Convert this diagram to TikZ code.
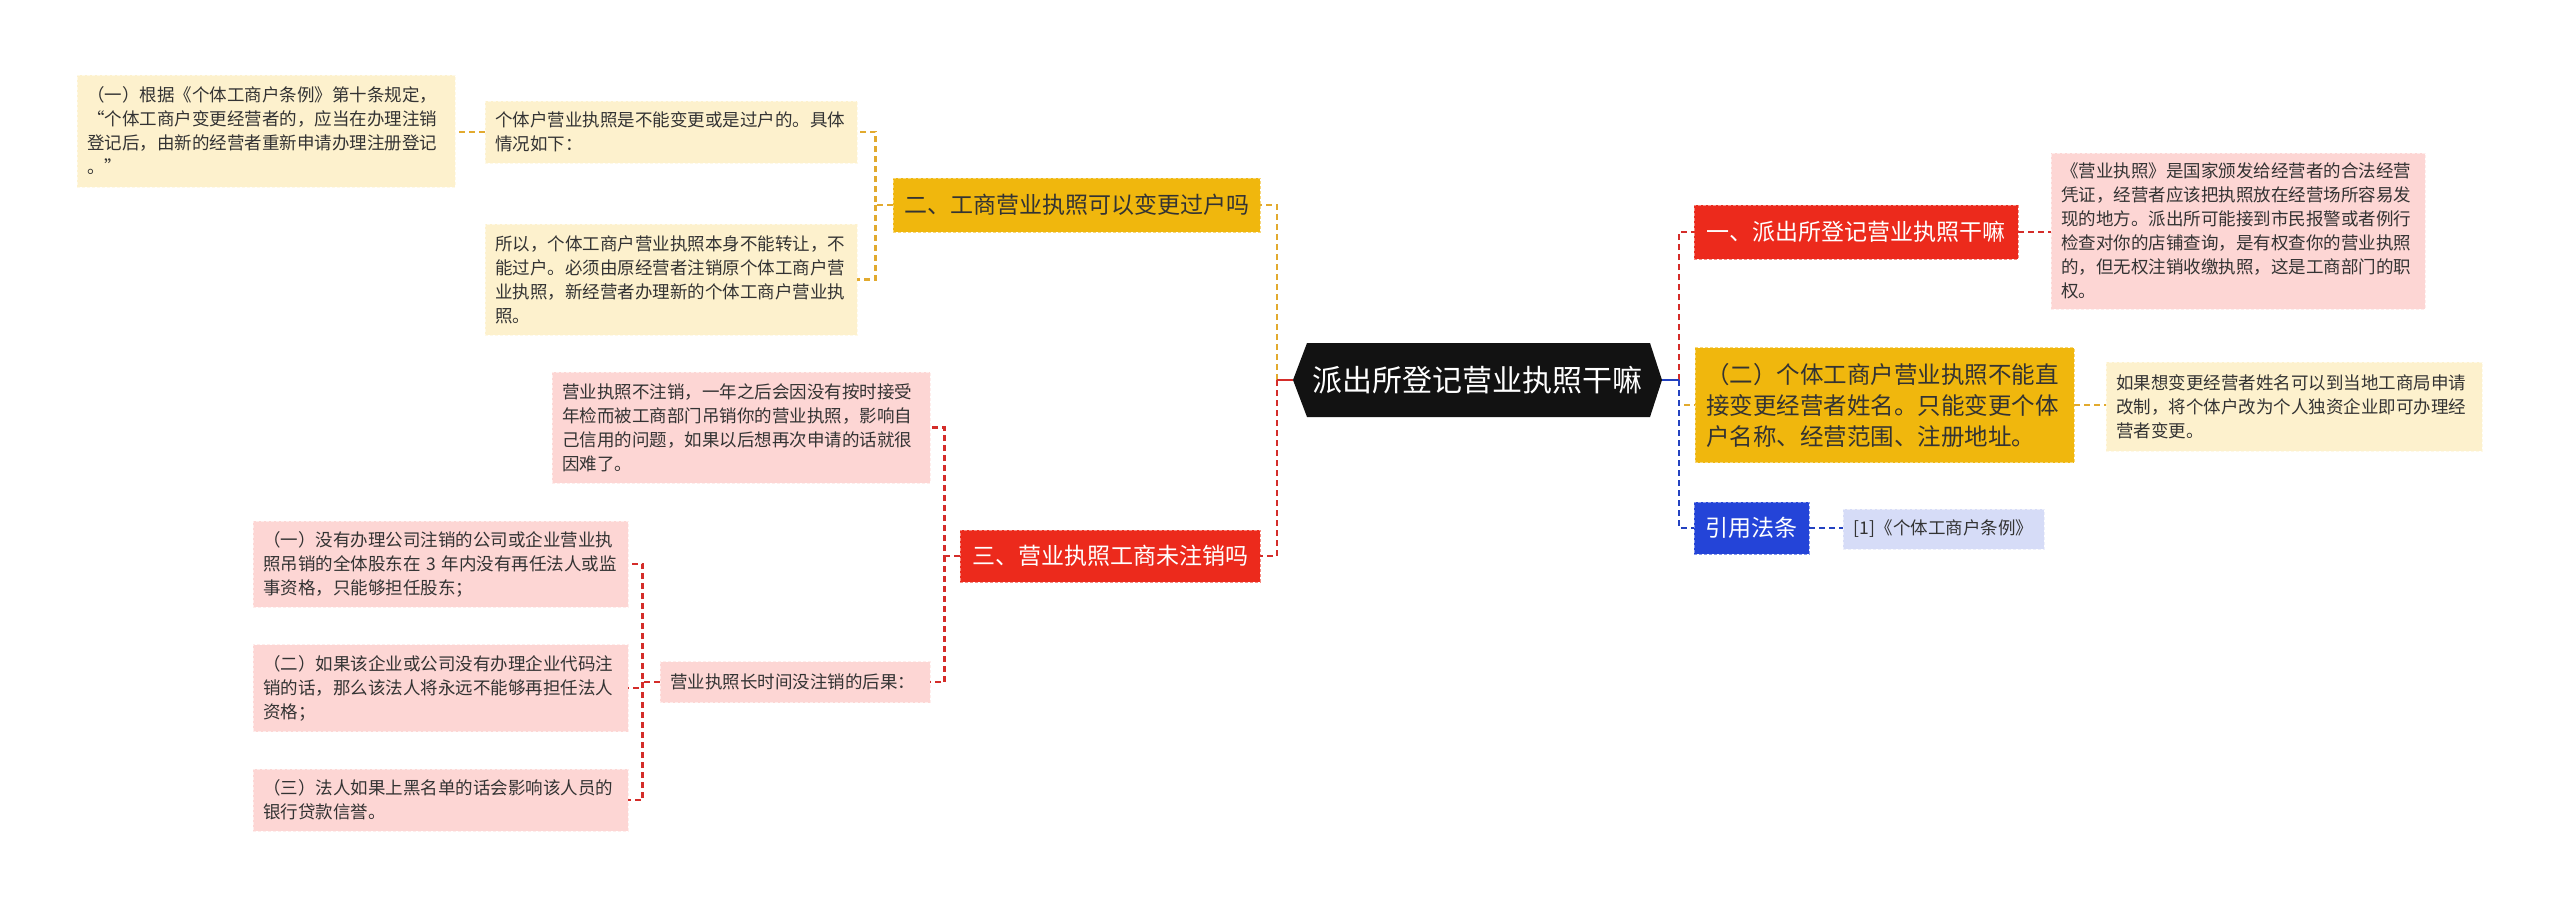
\documentclass[tikz,border=0pt]{standalone}
\usepackage{fontspec}
\setmainfont{Noto Sans CJK SC}
\newcommand\fdetail{\fontsize{17.5}{24}\selectfont}
\newcommand\fbranch{\fontsize{23}{31}\selectfont}
\newcommand\fbranchb{\fontsize{23.5}{31}\selectfont}
\newcommand\fcentral{\fontsize{30}{36}\selectfont}
\definecolor{cred}{HTML}{EC2A1C}
\definecolor{lred}{HTML}{D42D2A}
\definecolor{cgold}{HTML}{F0B70D}
\definecolor{lgold}{HTML}{E2AA2E}
\definecolor{cblue}{HTML}{2444D8}
\definecolor{lblue}{HTML}{2341C0}
\definecolor{pinkbg}{HTML}{FDD6D4}
\definecolor{creambg}{HTML}{FDF1CD}
\definecolor{lavbg}{HTML}{D6DCF7}
\definecolor{txt}{HTML}{333333}
\definecolor{hexfill}{HTML}{121212}
\tikzset{
  base/.style={rectangle, inner xsep=10pt, inner ysep=6pt, line width=0.8pt, dash pattern=on 3pt off 2pt},
  detail/.style={base, font=\fdetail, text=txt, align=left},
  pinkbox/.style={detail, fill=pinkbg, draw=white!55!pinkbg},
  creambox/.style={detail, fill=creambg, draw=white!55!creambg},
  lavbox/.style={detail, fill=lavbg, draw=white!55!lavbg, align=center},
  branch/.style={base, font=\fbranch, align=center},
  redbranch/.style={branch, fill=cred, draw=white!45!cred, text=white},
  goldbranch/.style={branch, fill=cgold, draw=white!45!cgold, text=txt},
  bluebranch/.style={branch, fill=cblue, draw=white!45!cblue, text=white},
  conn/.style={line width=2.3pt, dash pattern=on 6pt off 4pt},
  stub/.style={line width=2.8pt}
}
\begin{document}
\begin{tikzpicture}[x=1pt,y=-1pt]
\useasboundingbox (0,0) rectangle (2560,911);

% central node
\fill[hexfill] (1293,380) -- (1307,343) -- (1650,343) -- (1662,380) -- (1650,417) -- (1307,417) -- cycle;
\node[inner sep=0pt, minimum width=369pt, minimum height=74pt, font=\fcentral, text=white] (c) at (1477.5,380) {派出所登记营业执照干嘛};

% right side
\node[redbranch, minimum width=324pt, minimum height=54pt, text width=304pt] (r1) at (1856,232) {一、派出所登记营业执照干嘛};
\node[pinkbox, minimum width=374pt, minimum height=156pt, text width=354pt] (d1) at (2238,231) {《营业执照》是国家颁发给经营者的合法经营\\凭证，经营者应该把执照放在经营场所容易发\\现的地方。派出所可能接到市民报警或者例行\\检查对你的店铺查询，是有权查你的营业执照\\的，但无权注销收缴执照，这是工商部门的职\\权。};
\node[goldbranch, font=\fbranchb, align=left, minimum width=379pt, minimum height=115pt, text width=357pt, inner xsep=11pt] (r2) at (1884.5,405) {（二）个体工商户营业执照不能直\\接变更经营者姓名。只能变更个体\\户名称、经营范围、注册地址。};
\node[creambox, minimum width=376pt, minimum height=89pt, text width=356pt] (d2) at (2294,406.5) {如果想变更经营者姓名可以到当地工商局申请\\改制，将个体户改为个人独资企业即可办理经\\营者变更。};
\node[bluebranch, minimum width=115pt, minimum height=52pt, text width=95pt] (r3) at (1751.5,528) {引用法条};
\node[lavbox, minimum width=201pt, minimum height=40pt, text width=181pt] (d3) at (1943.5,529) {[1]《个体工商户条例》};

% left side
\node[goldbranch, minimum width=367pt, minimum height=54pt, text width=347pt] (l2) at (1076.5,205) {二、工商营业执照可以变更过户吗};
\node[creambox, minimum width=372pt, minimum height=62pt, text width=352pt] (l9) at (671,132) {个体户营业执照是不能变更或是过户的。具体\\情况如下：};
\node[creambox, minimum width=378pt, minimum height=112pt, text width=358pt] (l10) at (266,131) {（一）根据《个体工商户条例》第十条规定，\\“个体工商户变更经营者的，应当在办理注销\\登记后，由新的经营者重新申请办理注册登记\\。”};
\node[creambox, minimum width=372pt, minimum height=111pt, text width=352pt] (l11) at (671,279.5) {所以，个体工商户营业执照本身不能转让，不\\能过户。必须由原经营者注销原个体工商户营\\业执照，新经营者办理新的个体工商户营业执\\照。};
\node[redbranch, minimum width=300pt, minimum height=52pt, text width=280pt] (l3) at (1110,556) {三、营业执照工商未注销吗};
\node[pinkbox, minimum width=378pt, minimum height=111pt, text width=358pt] (l13) at (741,427.5) {营业执照不注销，一年之后会因没有按时接受\\年检而被工商部门吊销你的营业执照，影响自\\己信用的问题，如果以后想再次申请的话就很\\因难了。};
\node[pinkbox, minimum width=270pt, minimum height=41pt, text width=250pt] (l14) at (795,682) {营业执照长时间没注销的后果：};
\node[pinkbox, minimum width=375pt, minimum height=86pt, text width=355pt] (l15) at (440.5,564) {（一）没有办理公司注销的公司或企业营业执\\照吊销的全体股东在 3 年内没有再任法人或监\\事资格，只能够担任股东；};
\node[pinkbox, minimum width=375pt, minimum height=87pt, text width=355pt] (l16) at (440.5,688) {（二）如果该企业或公司没有办理企业代码注\\销的话，那么该法人将永远不能够再担任法人\\资格；};
\node[pinkbox, minimum width=375pt, minimum height=62pt, text width=355pt] (l17) at (440.5,800) {（三）法人如果上黑名单的话会影响该人员的\\银行贷款信誉。};

% junction coordinates
\coordinate (cL) at ([xshift=-16pt]c.west);
\coordinate (cR) at ([xshift=17pt]c.east);
\coordinate (l2T) at ([xshift=-17pt]l2.west);
\coordinate (l3T) at ([xshift=-15pt]l3.west);
\coordinate (l14T) at ([xshift=-17pt]l14.west);

% central connectors
\draw[conn, lgold] (cL) |- (l2.east);
\draw[conn, lred] (cL) |- (l3.east);
\draw[stub, lred] (c.west) -- (cL);
\draw[conn, lgold] (cR) |- (r2.west);
\draw[conn, lblue] (cR) |- (r3.west);
\draw[conn, lred] (cR) |- (r1.west);
\draw[stub, lblue] (c.east) -- (cR);

% right details
\draw[conn, lred] (r1.east) -- (d1.west |- r1.east);
\draw[conn, lgold] (r2.east) -- (d2.west |- r2.east);
\draw[conn, lblue] (r3.east) -- (d3.west |- r3.east);

% left branch 2
\draw[conn, lgold] (l2.west) -- (l2T) |- (l9.east);
\draw[conn, lgold] (l2T) |- (l11.east);
\draw[conn, lgold] (l9.west) -- (l10.east |- l9.west);

% left branch 3
\draw[conn, lred] (l3.west) -- (l3T) |- (l13.east);
\draw[conn, lred] (l3T) |- (l14.east);
\draw[conn, lred] (l14.west) -- (l14T) |- (l15.east);
\draw[conn, lred] (l14T) |- (l16.east);
\draw[conn, lred] (l14T) |- (l17.east);
\end{tikzpicture}
\end{document}
